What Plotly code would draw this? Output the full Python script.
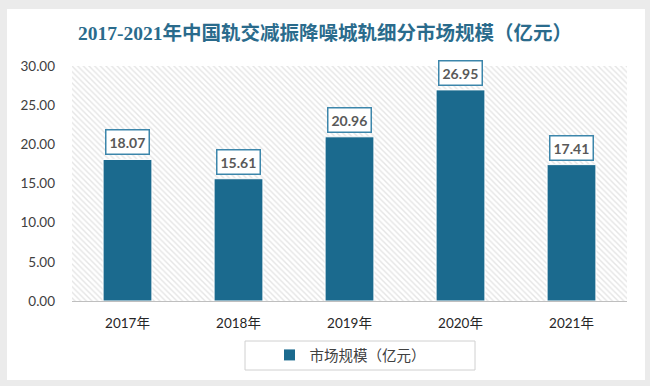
import plotly.graph_objects as go

categories = ["2017年", "2018年", "2019年", "2020年", "2021年"]
values = [18.07, 15.61, 20.96, 26.95, 17.41]
series_name = "市场规模（亿元）"
title_text = "2017-2021年中国轨交减振降噪城轨细分市场规模（亿元）"
y_ticks = [0, 5, 10, 15, 20, 25, 30]

BAR = "#1b6a8e"
NUM_FONT = "Lato, Noto Sans CJK SC, sans-serif"
CJK_FONT = "Noto Sans CJK SC, sans-serif"

fig = go.Figure()

# hatched plot-area background
fig.add_trace(go.Bar(
    x=[0.5], y=[y_ticks[-1]], width=[1], xaxis="x", yaxis="y",
    marker=dict(color="#ffffff", line=dict(width=0),
                pattern=dict(shape="\\", fgcolor="#cccccc", bgcolor="#ffffff",
                             size=4, solidity=0.35)),
    hoverinfo="skip", showlegend=False,
))

fig.add_trace(go.Bar(
    x=categories, y=values, xaxis="x2", yaxis="y", name=series_name,
    marker=dict(color=BAR, line=dict(color="#ffffff", width=1)),
    width=0.44, showlegend=True,
))

for c, v in zip(categories, values):
    fig.add_annotation(
        x=c, y=v, xref="x2", yref="y", yanchor="bottom", yshift=4,
        text=f"<b>{v:.2f}</b>", showarrow=False,
        font=dict(family=NUM_FONT, size=14, color="#595959"),
        bgcolor="#ffffff", bordercolor="#3c86ab", borderwidth=1.5, borderpad=3,
    )

L, R, T, B = 72, 23, 66, 85
PW, PH = 650 - L - R, 386 - T - B

def px(x):
    return (x - L) / PW

def py(y):
    return (386 - B - y) / PH

shapes = [
    # white card
    dict(type="rect", xref="paper", yref="paper", layer="below",
         x0=px(7), x1=px(645), y0=py(380), y1=py(9),
         fillcolor="#ffffff", line=dict(width=0)),
    # legend frame
    dict(type="rect", xref="paper", yref="paper",
         x0=px(245), x1=px(475), y0=py(370), y1=py(341),
         fillcolor="rgba(0,0,0,0)", line=dict(color="#d0d0d0", width=1)),
]

fig.update_layout(
    width=650, height=386,
    margin=dict(l=L, r=R, t=T, b=B),
    paper_bgcolor="#ebebeb", plot_bgcolor="rgba(0,0,0,0)",
    barmode="overlay",
    shapes=shapes,
    title=dict(text=f"<b>{title_text}</b>", x=0.5, xanchor="center",
               y=1 - 33 / 386, yanchor="middle", yref="container",
               font=dict(family="Liberation Serif, Noto Sans CJK SC, serif",
                         size=19.5, color="#2a6b8c")),
    xaxis=dict(range=[0, 1], visible=False, fixedrange=True),
    xaxis2=dict(type="category", overlaying="x", side="bottom", anchor="y",
                range=[-0.5, 4.5], showline=True, linecolor="#bfbfbf", linewidth=1,
                showgrid=False, ticks="", ticklabelstandoff=10,
                tickfont=dict(family=NUM_FONT, size=13.5, color="#262626")),
    yaxis=dict(range=[0, 30], tickvals=y_ticks, tickformat=".2f",
               showgrid=False, zeroline=False, showline=False, ticks="",
               ticklabelstandoff=16,
               tickfont=dict(family=NUM_FONT, size=13.5, color="#404040")),
    legend=dict(orientation="h", x=px(350), xanchor="center", y=py(355),
                yanchor="middle", bgcolor="rgba(0,0,0,0)", itemwidth=30,
                font=dict(family=CJK_FONT, size=14.5, color="#404040")),
    showlegend=True,
)

fig.write_html("out.html", config={"displayModeBar": False},
               post_script="document.body.style.margin='0';")
